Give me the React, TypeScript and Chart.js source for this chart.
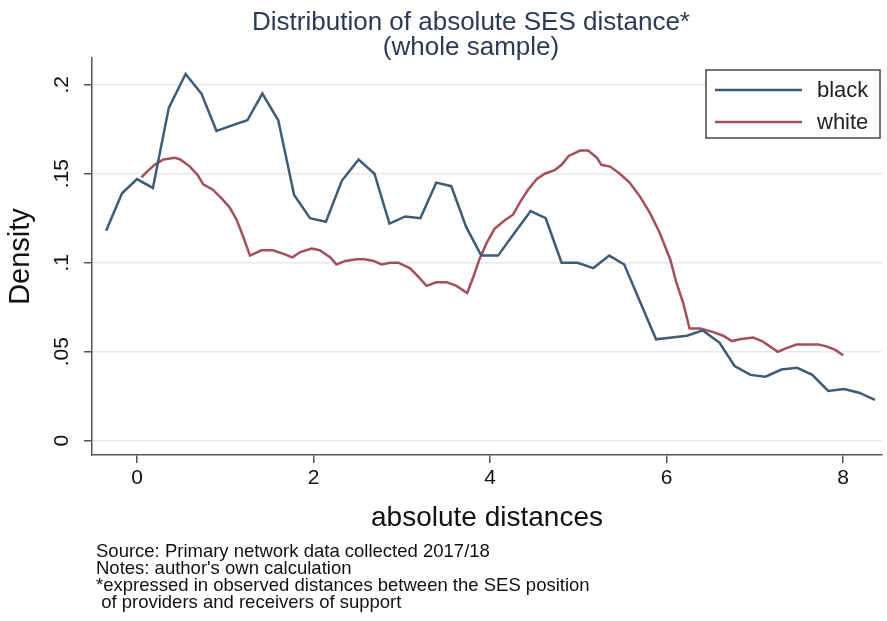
import React, { useEffect, useRef } from "react";
import { Chart, registerables } from "chart.js";

Chart.register(...registerables);

const FONT = "'Liberation Sans', Arial, Helvetica, sans-serif";

const titleLines = ["Distribution of absolute SES distance*", "(whole sample)"];
const noteLines = [
  "Source: Primary network data collected 2017/18",
  "Notes: author's own calculation",
  "*expressed in observed distances between the SES position",
  " of providers and receivers of support",
];
const seriesNames = ["black", "white"];
const xTicks = [0, 2, 4, 6, 8];
const yTicks = [0, 0.05, 0.1, 0.15, 0.2];

const blackX = [
  -0.35, -0.17, 0.0, 0.18, 0.36, 0.55, 0.73, 0.9, 1.07, 1.25, 1.42, 1.6, 1.78, 1.96, 2.14, 2.32, 2.51, 2.69,
  2.86, 3.04, 3.21, 3.39, 3.56, 3.73, 3.9, 4.09, 4.28, 4.46, 4.63, 4.81, 4.99, 5.17, 5.35, 5.52, 5.7, 5.88,
  6.06, 6.23, 6.41, 6.6, 6.77, 6.95, 7.12, 7.3, 7.48, 7.65, 7.83, 8.01, 8.18, 8.36,
];
const blackY = [
  0.118, 0.139, 0.147, 0.142, 0.187, 0.206, 0.195, 0.174, 0.177, 0.18, 0.195, 0.18, 0.138, 0.125, 0.123,
  0.146, 0.158, 0.15, 0.122, 0.126, 0.125, 0.145, 0.143, 0.12, 0.104, 0.104, 0.117, 0.129, 0.125, 0.1, 0.1,
  0.097, 0.104, 0.099, 0.078, 0.057, 0.058, 0.059, 0.062, 0.055, 0.042, 0.037, 0.036, 0.04, 0.041, 0.037,
  0.028, 0.029, 0.027, 0.023,
];

const whiteX = [
  0.05, 0.11, 0.2, 0.3, 0.43, 0.49, 0.6, 0.69, 0.75, 0.86, 0.96, 1.05, 1.13, 1.2, 1.28, 1.41, 1.54, 1.66,
  1.76, 1.85, 1.98, 2.07, 2.19, 2.26, 2.36, 2.49, 2.58, 2.68, 2.77, 2.87, 2.96, 3.09, 3.17, 3.28, 3.39, 3.51,
  3.62, 3.74, 3.81, 3.88, 3.96, 4.05, 4.17, 4.26, 4.34, 4.43, 4.53, 4.62, 4.73, 4.81, 4.89, 5.02, 5.11, 5.21,
  5.26, 5.36, 5.47, 5.58, 5.7, 5.81, 5.92, 6.04, 6.11, 6.19, 6.26, 6.38, 6.53, 6.64, 6.74, 6.83, 6.98, 7.08,
  7.17, 7.26, 7.36, 7.47, 7.72, 7.81, 7.91, 8.0,
];
const whiteY = [
  0.148, 0.151, 0.155, 0.158, 0.159, 0.158, 0.154, 0.149, 0.144, 0.141, 0.136, 0.131, 0.124, 0.115, 0.104,
  0.107, 0.107, 0.105, 0.103, 0.106, 0.108, 0.107, 0.103, 0.099, 0.101, 0.102, 0.102, 0.101, 0.099, 0.1, 0.1,
  0.097, 0.093, 0.087, 0.089, 0.089, 0.087, 0.083, 0.092, 0.102, 0.111, 0.119, 0.124, 0.127, 0.134, 0.141,
  0.147, 0.15, 0.152, 0.155, 0.16, 0.163, 0.163, 0.159, 0.155, 0.154, 0.15, 0.145, 0.137, 0.128, 0.117,
  0.102, 0.089, 0.077, 0.063, 0.063, 0.061, 0.059, 0.056, 0.057, 0.058, 0.056, 0.053, 0.05, 0.052, 0.054,
  0.054, 0.053, 0.051, 0.048,
];

const BLACK_COLOR = "#3d5c77";
const WHITE_COLOR = "#a3505a";
const AXIS_COLOR = "#555555";

const decorPlugin = {
  id: "decor",
  afterDraw(chart: any) {
    const ctx = chart.ctx;
    ctx.save();
    // title
    ctx.fillStyle = "#2d3a55";
    ctx.font = `26px ${FONT}`;
    ctx.textAlign = "center";
    ctx.textBaseline = "alphabetic";
    ctx.fillText(titleLines[0], 471, 30);
    ctx.fillText(titleLines[1], 471, 55);

    // legend
    const lx = 706, ly = 70, lw = 174, lh = 68;
    ctx.fillStyle = "#ffffff";
    ctx.fillRect(lx, ly, lw, lh);
    ctx.strokeStyle = "#444444";
    ctx.lineWidth = 1.5;
    ctx.strokeRect(lx, ly, lw, lh);
    const colors = [BLACK_COLOR, WHITE_COLOR];
    const rowsY = [90, 122];
    ctx.font = `22px ${FONT}`;
    ctx.textAlign = "left";
    ctx.textBaseline = "middle";
    seriesNames.forEach((name, i) => {
      ctx.strokeStyle = colors[i];
      ctx.lineWidth = 2.5;
      ctx.beginPath();
      ctx.moveTo(715, rowsY[i]);
      ctx.lineTo(802, rowsY[i]);
      ctx.stroke();
      ctx.fillStyle = "#222222";
      ctx.fillText(name, 817, rowsY[i] + 1);
    });

    // notes
    ctx.fillStyle = "#111111";
    ctx.font = `18.5px ${FONT}`;
    ctx.textAlign = "left";
    ctx.textBaseline = "middle";
    const noteY = [552, 569, 586, 603];
    noteLines.forEach((t, i) => ctx.fillText(t, 96, noteY[i]));
    ctx.restore();
  },
};

function fmtY(v: number): string {
  if (v === 0) return "0";
  return String(+v.toFixed(2)).replace(/^0/, "");
}

export default function App() {
  const ref = useRef<HTMLCanvasElement | null>(null);
  useEffect(() => {
    if (!ref.current) return;
    Chart.defaults.font.family = FONT;
    const chart = new Chart(ref.current, {
      type: "line",
      data: {
        datasets: [
          {
            label: seriesNames[0],
            data: blackX.map((x, i) => ({ x, y: blackY[i] })),
            borderColor: BLACK_COLOR,
            borderWidth: 2.5,
            pointRadius: 0,
            tension: 0,
            fill: false,
          },
          {
            label: seriesNames[1],
            data: whiteX.map((x, i) => ({ x, y: whiteY[i] })),
            borderColor: WHITE_COLOR,
            borderWidth: 2.5,
            pointRadius: 0,
            tension: 0,
            fill: false,
          },
        ],
      },
      options: {
        responsive: false,
        animation: false,
        layout: { padding: { top: 58, right: 5, left: 0, bottom: 0 } },
        plugins: {
          legend: { display: false },
          title: { display: false },
          tooltip: { enabled: false },
        },
        scales: {
          x: {
            type: "linear",
            min: -0.51,
            max: 8.44,
            afterBuildTicks: (s: any) => {
              s.ticks = xTicks.map((v) => ({ value: v }));
            },
            afterFit: (s: any) => {
              s.height = 166;
            },
            grid: {
              drawOnChartArea: false,
              drawTicks: true,
              tickLength: 8,
              tickColor: AXIS_COLOR,
              lineWidth: 1.5,
            },
            border: { display: true, color: AXIS_COLOR, width: 1.5 },
            ticks: {
              font: { size: 21 },
              color: "#111111",
              padding: 3,
              maxRotation: 0,
              minRotation: 0,
              callback: (v: any) => String(v),
            },
            title: {
              display: true,
              text: "absolute distances",
              font: { size: 28 },
              color: "#111111",
              padding: { top: 0, bottom: 86 },
            },
          },
          y: {
            type: "linear",
            min: -0.008,
            max: 0.215,
            afterBuildTicks: (s: any) => {
              s.ticks = yTicks.map((v) => ({ value: v }));
            },
            afterFit: (s: any) => {
              s.width = 92;
            },
            grid: {
              color: "#e4e9ed",
              lineWidth: 1.5,
              drawTicks: true,
              tickLength: 8,
              tickColor: AXIS_COLOR,
            },
            border: { display: true, color: AXIS_COLOR, width: 1.5 },
            ticks: {
              font: { size: 21 },
              color: "#111111",
              minRotation: 90,
              maxRotation: 90,
              crossAlign: "center",
              padding: 7,
              callback: (v: any) => fmtY(Number(v)),
            },
            title: {
              display: true,
              text: "Density",
              font: { size: 29 },
              color: "#111111",
              padding: { top: 4, bottom: 0 },
            },
          },
        },
      },
      plugins: [decorPlugin],
    });
    return () => chart.destroy();
  }, []);

  return (
    <div style={{ position: "fixed", left: 0, top: 0, width: 887, height: 621, background: "#ffffff" }}>
      <canvas ref={ref} width={887} height={621} style={{ display: "block" }} />
    </div>
  );
}
